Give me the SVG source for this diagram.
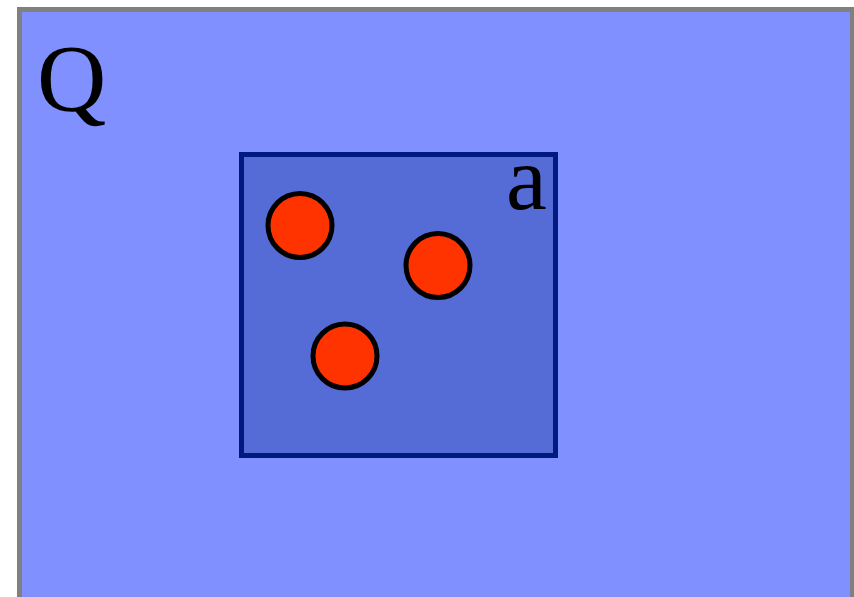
<svg xmlns="http://www.w3.org/2000/svg" width="854" height="597" viewBox="0 0 854 597">
<style>
.lbl{font-family:"Liberation Serif","Times New Roman",serif;fill:#000}
.dot{fill:#ff3300;stroke:#000;stroke-width:5}
</style>
<rect width="854" height="597" fill="#fff"/>
<g id="Q">
<rect x="19.5" y="9.5" width="833" height="600" fill="#8090ff" stroke="#808080" stroke-width="5"/>
<text class="lbl" x="37" y="111" font-size="96">Q</text>
</g>
<g id="a">
<rect x="241.5" y="154.5" width="314" height="301" fill="#556bd6" stroke="#001a80" stroke-width="5"/>
<text class="lbl" x="506" y="209" font-size="92">a</text>
</g>
<g id="p1"><circle class="dot" cx="300" cy="225.5" r="32"/></g>
<g id="p2"><circle class="dot" cx="438" cy="265.5" r="32"/></g>
<g id="p3"><circle class="dot" cx="345" cy="356" r="32"/></g>
<g id="connectors"/>
</svg>
